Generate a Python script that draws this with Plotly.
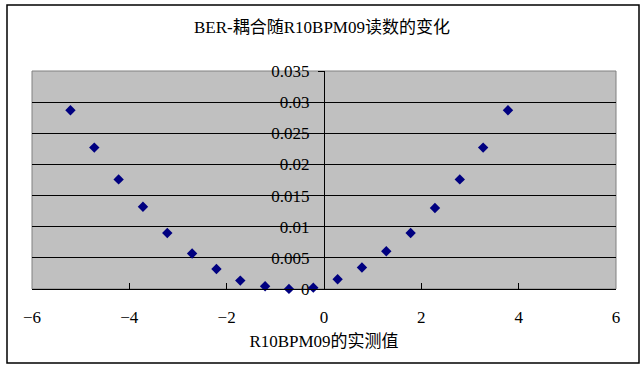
import plotly.graph_objects as go

# R10BPM09 reading vs BER coupling
bpm_reading = [-5.21, -4.72, -4.22, -3.72, -3.22, -2.71, -2.21, -1.72, -1.21, -0.72,
               -0.22, 0.28, 0.78, 1.28, 1.78, 2.28, 2.79, 3.27, 3.78]
ber_coupling = [0.0287, 0.0227, 0.0176, 0.0132, 0.0090, 0.0057, 0.0032, 0.00135, 0.00043, 0.00002,
                0.00022, 0.00156, 0.00344, 0.00606, 0.0090, 0.0130, 0.0176, 0.0227, 0.0287]

x_ticks = [-6, -4, -2, 0, 2, 4, 6]
x_tick_text = ["−6", "−4", "−2", "0", "2", "4", "6"]
y_ticks = [0, 0.005, 0.01, 0.015, 0.02, 0.025, 0.03, 0.035]
y_tick_text = ["0", "0.005", "0.01", "0.015", "0.02", "0.025", "0.03", "0.035"]

font_family = "'Liberation Serif', 'Times New Roman', 'Noto Sans CJK SC', serif"

fig = go.Figure()
fig.add_trace(
    go.Scatter(
        x=bpm_reading,
        y=ber_coupling,
        mode="markers",
        marker=dict(symbol="diamond", size=8, color="#000080"),
        cliponaxis=False,
        showlegend=False,
    )
)

fig.update_layout(
    width=644,
    height=368,
    margin=dict(l=32, r=28, t=71, b=79),
    paper_bgcolor="white",
    plot_bgcolor="#C0C0C0",
    font=dict(family=font_family, size=17, color="black"),
    title=dict(
        text="BER-耦合随R10BPM09读数的变化",
        x=0.5,
        xanchor="center",
        y=1 - 27 / 368,
        yanchor="middle",
        font=dict(size=17),
    ),
    shapes=[
        # plot area border (over the grid, under the markers)
        dict(type="rect", xref="paper", yref="paper", x0=0, x1=1, y0=0, y1=1,
             line=dict(color="#808080", width=1), layer="between"),
        # chart border
        dict(type="rect", xref="paper", yref="paper",
             x0=(7 - 32) / 584, x1=(639 - 32) / 584,
             y0=(289 - 363) / 218, y1=(289 - 5) / 218,
             line=dict(color="black", width=1.5)),
    ],
)

fig.update_xaxes(
    range=[-6, 6],
    tickvals=x_ticks,
    ticktext=x_tick_text,
    ticks="inside",
    ticklen=6,
    tickcolor="black",
    showline=True,
    linecolor="black",
    linewidth=1,
    showgrid=False,
    zeroline=False,
    automargin=False,
    ticklabelstandoff=13,
    title=dict(text="R10BPM09的实测值", standoff=8, font=dict(size=17)),
)

fig.update_yaxes(
    range=[0, 0.035],
    tickvals=y_ticks,
    ticktext=y_tick_text,
    anchor="free",
    position=0.5,
    ticks="outside",
    ticklen=6,
    tickcolor="black",
    showline=True,
    linecolor="black",
    linewidth=1,
    showgrid=True,
    gridcolor="black",
    gridwidth=1,
    zeroline=False,
    automargin=False,
    ticklabelstandoff=5,
)

# drop the default body margin so the figure sits at the page corner
fig.write_html(
    "out.html",
    config={"displayModeBar": False},
    post_script="document.body.style.margin = '0';",
)
